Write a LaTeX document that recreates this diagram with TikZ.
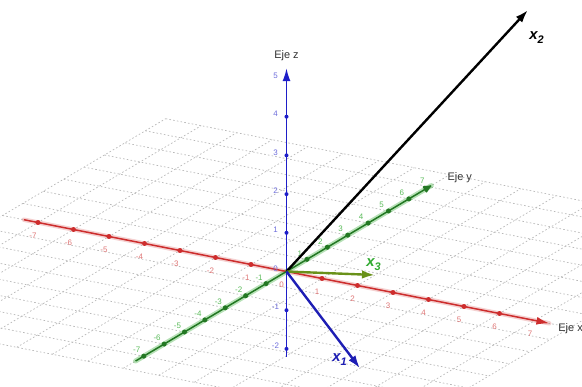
\documentclass[tikz,border=0pt]{standalone}
\usepackage{fontspec}
\setmainfont{Liberation Sans}
\usetikzlibrary{arrows.meta,calc}
\definecolor{axred}{RGB}{205,45,45}
\definecolor{axgreen}{RGB}{35,120,35}
\definecolor{axblue}{RGB}{30,30,200}
\definecolor{vecblue}{RGB}{30,30,180}
\definecolor{vecolive}{RGB}{105,145,25}
\definecolor{lblgreen}{RGB}{50,170,50}
\definecolor{gridgrey}{gray}{0.72}
\tikzset{
  fig/.style={font=\small},
  gridln/.style={gridgrey,dash pattern=on 1.6pt off 2.2pt,line width=0.7pt},
  axisln/.style={line width=1.5pt,-{Latex[length=4.5mm,width=2.8mm]}},
  halo/.style={line width=4.5pt,opacity=0.22,line cap=round},
  vec/.style={line width=2.4pt,-{Latex[length=4.6mm,width=3mm]}},
  tickdot/.style={circle,fill,inner sep=0pt,minimum size=5bp},
  num/.style={font=\fontsize{8}{9}\selectfont,inner sep=0pt},
  axlbl/.style={font=\fontsize{11}{13}\selectfont,inner sep=0pt,text=black!80},
  veclbl/.style={font=\fontsize{15}{17}\selectfont\bfseries\itshape,inner sep=0pt},
}
\newcommand{\vsub}[1]{x\raisebox{-0.45ex}{\fontsize{11}{13}\selectfont #1}}

\begin{document}
\begin{tikzpicture}[fig,
  x={(35.5bp,-7bp)},y={(20.4bp,12.1bp)},z={(0bp,38.7bp)}]

\path[use as bounding box] (-286.5bp,-115.5bp) rectangle (295.5bp,271.5bp);

% ------------------------------------------------ grid on the xy plane
\begin{scope}
  \clip (-286.5bp,-115.5bp) rectangle (295.5bp,271.5bp);
  \foreach \k in {-8,...,8} {
    \draw[gridln] (\k,-8,0) -- (\k,8,0);
    \draw[gridln] (-8,\k,0) -- (8,\k,0);
  }
\end{scope}

% ------------------------------------------------ axes
\coordinate (O)  at (0,0,0);
\coordinate (xs) at (-7.4,0,0);
\coordinate (xe) at (7.4,0,0);
\coordinate (ys) at (0,-7.4,0);
\coordinate (ye) at (0,7.1,0);
\coordinate (zs) at (0,0,-2.2);
\coordinate (ze) at (0,0,5.25);

\draw[halo,axred]   (xs) -- (xe);
\draw[halo,lblgreen,line width=5pt,opacity=0.35] (ys) -- (ye);

\draw[axisln,axred]   (xs) -- (xe);
\draw[axisln,axgreen,-{Latex[round,length=3.6mm,width=3mm]}] (ys) -- (ye);
\draw[axisln,axblue]  (zs) -- (ze);

% ticks and numbers, x axis
\foreach \i [count=\n] in {-7,...,-1,1,2,...,6}
  {\node[tickdot,axred] (tx\n) at (\i,0,0) {};}
\foreach \i [count=\n] in {-7,...,7}
  {\node[num,axred!65,xshift=-5bp,yshift=-13.5bp] (nx\n) at (\i,0,0) {\i};}

% ticks and numbers, y axis
\foreach \i [count=\n] in {-7,...,-1,1,2,...,6}
  {\node[tickdot,axgreen] (ty\n) at (0,\i,0) {};}
\foreach \i [count=\n] in {-7,...,-1,1,2,...,7}
  {\node[num,lblgreen!80,xshift=-7bp,yshift=6bp] (ny\n) at (0,\i,0) {\i};}

% ticks and numbers, z axis
\foreach \i [count=\n] in {-2,-1,1,2,3,4}
  {\node[tickdot,axblue,minimum size=4bp] (tz\n) at (0,0,\i) {};}
\foreach \i [count=\n] in {-2,...,4}
  {\node[num,axblue!65,xshift=-11bp,yshift=3bp] (nz\n) at (0,0,\i) {\i};}
\node[num,axblue!65,xshift=-11bp,yshift=-7bp] (nz5) at (ze) {5};

\node[axlbl,anchor=west] (ejex) at ($(xe)+(9bp,-5bp)$) {Eje x};
\node[axlbl,anchor=west] (ejey) at ($(ye)+(16bp,8bp)$) {Eje y};
\node[axlbl] (ejez) at ($(ze)+(0bp,13bp)$) {Eje z};

% ------------------------------------------------ vectors
\coordinate (x1tip) at (73.5bp,-96.8bp);
\coordinate (x2tip) at (241.5bp,261.5bp);
\coordinate (x3tip) at (88.5bp,-3.5bp);

\draw[vec,black]    (O) -- (x2tip);
\draw[vec,vecolive] (O) -- (x3tip);
\draw[vec,vecblue]  (O) -- (x1tip);

\node[veclbl,black]    (lx2) at ($(O)+(250bp,234bp)$) {\vsub{2}};
\node[veclbl,vecblue]  (lx1) at ($(O)+(53bp,-88bp)$) {\vsub{1}};
\node[veclbl,lblgreen] (lx3) at ($(O)+(87bp,7bp)$) {\vsub{3}};

\end{tikzpicture}
\end{document}
